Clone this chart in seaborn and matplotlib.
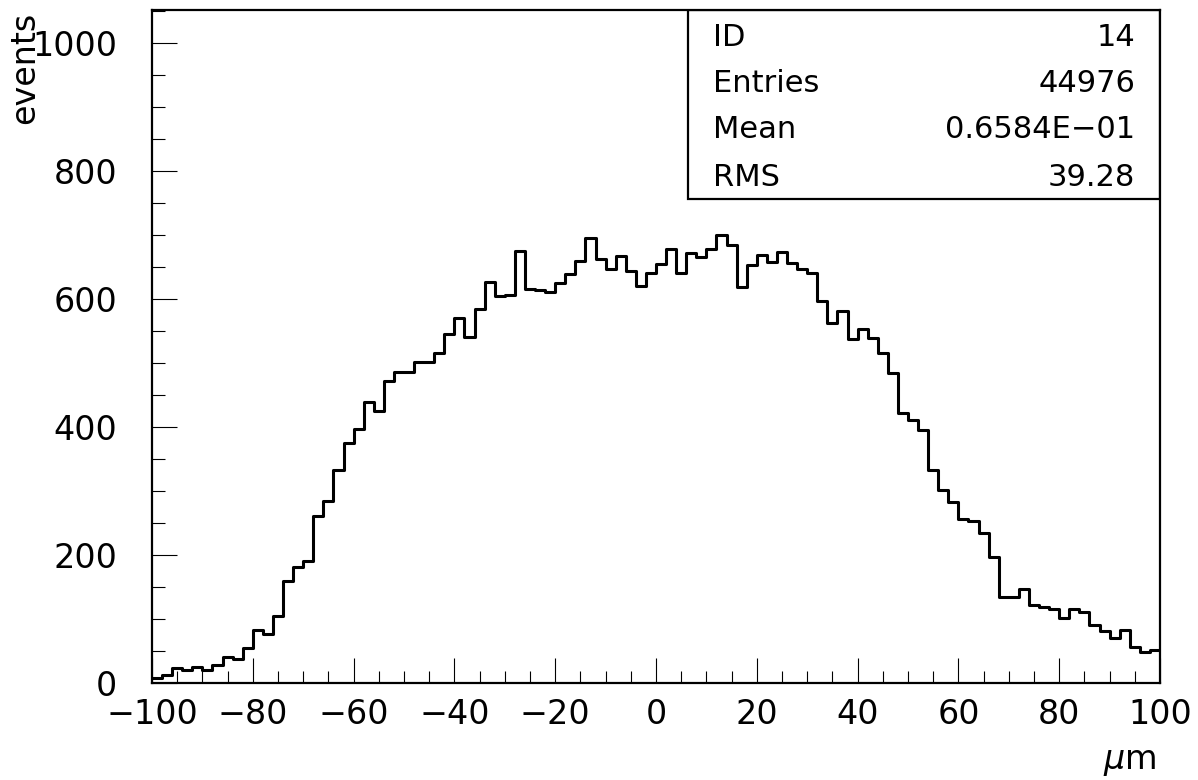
import numpy as np
import pandas as pd
import matplotlib
matplotlib.use("Agg")
import matplotlib.pyplot as plt
import seaborn as sns
from matplotlib.ticker import MultipleLocator
from matplotlib.patches import Rectangle

sns.set_style("white")
plt.rcParams['font.family'] = ['DejaVu Sans']
plt.rcParams['text.color'] = 'black'
plt.rcParams['xtick.labelcolor'] = 'black'
plt.rcParams['ytick.labelcolor'] = 'black'

# Histogram ID 14: 100 bins of 2 um from -100 to 100 (contents)
bin_edges = list(range(-100, 101, 2))
counts = [
    8, 13, 24, 20, 25, 21, 28, 40, 38, 55,
    82, 77, 104, 160, 181, 190, 261, 285, 332, 375,
    397, 439, 424, 472, 486, 485, 501, 502, 515, 545,
    570, 540, 584, 627, 604, 606, 674, 615, 614, 611,
    625, 639, 659, 695, 662, 647, 667, 644, 620, 641,
    654, 677, 641, 671, 666, 678, 700, 684, 619, 653,
    668, 658, 673, 656, 647, 641, 596, 562, 581, 537,
    553, 538, 516, 484, 422, 411, 395, 333, 301, 283,
    256, 253, 234, 197, 134, 135, 147, 122, 118, 116,
    101, 116, 111, 91, 81, 70, 82, 57, 48, 52,
]

# Statistics box contents
stat_names = ["ID", "Entries", "Mean", "RMS"]
stat_values = ["14", "44976", "0.6584E\u221201", "39.28"]

edges = np.array(bin_edges, dtype=float)
centers = (edges[:-1] + edges[1:]) / 2
df = pd.DataFrame({"x": centers, "w": np.array(counts, dtype=float)})

fig = plt.figure(figsize=(11.98, 7.8), dpi=100)
ax = fig.add_axes([152 / 1198, 97 / 780, 1008 / 1198, 673 / 780])

sns.histplot(data=df, x="x", weights="w", bins=bin_edges, element="step",
             fill=False, color="black", linewidth=2.2, ax=ax)

ax.set_xlim(-100, 100)
ax.set_ylim(0, 1051)
ax.set_xlabel("")
ax.set_ylabel("")

ax.xaxis.set_major_locator(MultipleLocator(20))
ax.xaxis.set_minor_locator(MultipleLocator(5))
ax.yaxis.set_major_locator(MultipleLocator(200))
ax.yaxis.set_minor_locator(MultipleLocator(50))
ax.tick_params(axis="both", which="major", direction="in", length=18, width=0.8,
               labelsize=24, color="black", labelcolor="black")
ax.tick_params(axis="both", which="minor", direction="in", length=9, width=0.8,
               color="black")
ax.tick_params(axis="x", which="major", pad=11)
ax.tick_params(axis="y", which="major", pad=25)
ax.tick_params(axis="x", which="both", top=False, bottom=True)
ax.tick_params(axis="y", which="both", right=False, left=True)
for s in ax.spines.values():
    s.set_linewidth(1.6)
    s.set_color("black")

# Statistics box in the upper right corner
x0 = (688 - 152) / 1008
y0 = (683 - 199) / 673
ax.add_patch(Rectangle((x0, y0), 1 - x0, 1 - y0, transform=ax.transAxes,
                       fill=False, edgecolor="black", linewidth=1.6, zorder=5))
row_y = [37, 83, 130, 177]
for name, val, ry in zip(stat_names, stat_values, row_y):
    yf = (683 - ry) / 673
    ax.text((713 - 152) / 1008, yf, name, transform=ax.transAxes,
            ha="left", va="center", fontsize=22, color="black")
    ax.text((1135 - 152) / 1008, yf, val, transform=ax.transAxes,
            ha="right", va="center", fontsize=22, color="black")

fig.text(25 / 1198, 1 - 12 / 780, "events", rotation=90, ha="center", va="top",
         fontsize=24, color="black")
fig.text(1130 / 1198, 1 - 761 / 780, r"$\mu$m", ha="center", va="center",
         fontsize=24, color="black")

fig.savefig("out.png", dpi=100)
plt.close(fig)
